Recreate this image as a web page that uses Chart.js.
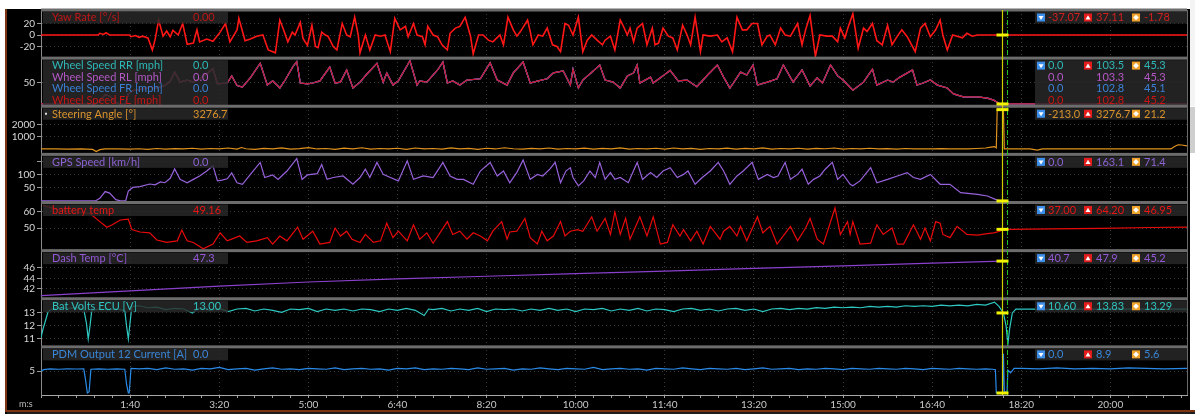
<!DOCTYPE html>
<html><head><meta charset="utf-8">
<script src="https://cdn.jsdelivr.net/npm/chart.js@4.4.1/dist/chart.umd.min.js"></script>
<style>html,body{margin:0;padding:0;background:#fff;overflow:hidden}canvas{display:block}</style>
</head><body>
<canvas id="c" width="1195" height="414"></canvas>
<script>
// ---------- DATA (time in seconds) ----------
const yawTime = [0,64,66,70,73,75,77,99,101,106,
110,114,120,125,128,130,132,137,141,145,
148,154,159,164,171,175,178,186,193,201,
207,212,220,222,229,235,242,249,255,263,
268,272,277,282,285,291,294,299,304,308,
311,315,319,322,328,332,338,343,347,352,
356,358,364,369,375,381,386,392,397,403,
409,412,418,422,428,431,434,440,445,450,
456,459,465,470,476,482,485,491,496,502,
507,515,519,524,530,534,538,546,549,552,
558,563,568,574,579,583,588,592,597,603,
608,613,618,624,630,633,639,644,650,653,
658,661,665,669,675,680,686,689,693,698,
704,709,714,720,725,729,734,740,743,751,
759,764,770,776,781,787,792,798,804,809,
815,818,824,830,835,841,849,854,858,863,
869,874,882,888,894,897,902,906,911,917,
923,927,933,938,944,950,955,961,966,972,
978,981,987,992,998,1004,1009,1012,1017,1023,
1028,1034,1039,1045,1051,1054,1286];
const yawRate = [0,0,3,1,4,2,0,0,-3,-1,
-4,-2,-5,-26,-8,9,26,-2,7,-3,
8,0,20,-16,-14,9,-12,-7,-11,5,
20,-12,9,29,-10,-7,-2,0,-26,-31,
26,10,-12,5,0,22,-6,-18,17,-20,
-22,5,0,-2,-20,-26,20,0,-3,31,
0,-31,0,-26,0,-2,0,-29,29,9,
15,-3,20,0,-3,-17,15,0,-3,-17,
-26,3,12,15,31,-2,-33,0,0,-9,
-12,0,-17,31,9,-2,6,26,6,-17,
0,-2,12,-17,-20,-29,20,17,0,31,
-29,-9,0,-9,-17,-9,-2,-26,26,17,
0,12,-12,12,20,-17,12,-17,-14,12,
-2,-5,-26,17,0,-17,31,-29,0,-2,
0,-12,-5,-29,31,9,9,20,20,-17,
-2,0,-17,12,0,-2,20,-17,9,34,
-37,0,-2,-2,-12,12,-5,15,37,-23,
12,6,20,-10,-17,17,-17,-2,9,-3,
-20,-29,12,20,-3,9,26,0,-26,0,
-2,-5,3,-2,0,0,0];

const wheelTime = [0,61,66,72,77,84,89,95,98,103,
111,122,130,139,145,150,156,164,171,178,
186,193,198,209,214,220,226,235,246,254,
260,268,274,283,287,291,299,305,313,324,
330,336,343,350,358,366,377,384,388,395,
401,414,422,425,433,445,451,456,462,470,
478,493,504,512,523,530,541,549,558,568,
575,586,594,597,603,608,620,627,633,642,
650,658,665,669,672,684,687,698,706,715,
725,736,748,759,766,773,777,785,792,799,
804,815,826,833,844,854,863,871,877,886,
894,900,911,923,933,938,950,956,964,978,
983,990,998,1006,1017,1024,1035,1051,1062,1069,
1073,1076,1286];
const wheelSpeed = [0,0,6,22,19,3,0,0,24,32,
34,40,38,44,54,76,52,57,52,60,
72,84,48,50,67,44,40,63,97,45,
55,38,57,90,101,50,48,50,55,88,
50,52,81,38,52,72,97,52,74,45,
55,103,45,55,52,81,100,50,55,45,
57,60,98,57,45,74,100,50,55,60,
74,79,45,83,38,57,79,93,57,52,
38,67,74,93,50,64,50,67,80,55,
57,41,69,93,64,38,50,76,69,93,
45,52,60,93,52,81,43,62,50,93,
67,57,33,52,83,45,57,52,64,81,
45,50,57,45,38,24,17,17,14,9,
4,0,0];

const steerTime = [0,15,30,45,58,62,66,72,85,100,
110,120,130,140,150,160,170,180,190,200,
210,220,225,230,240,250,260,270,280,290,
300,310,320,330,340,350,360,370,380,390,
400,410,420,430,440,450,460,470,480,490,
500,510,520,530,540,550,560,570,580,590,
600,610,620,630,640,650,660,670,680,690,
700,710,720,730,740,750,760,770,780,790,
800,810,820,830,840,850,860,870,880,890,
900,910,920,930,940,950,960,970,980,990,
1000,1010,1020,1030,1040,1050,
1060,1066,1070,1072,1073,1080,1081,1090,1110,1118,
1124,1150,1200,1250,1268,1272,1276,1280,1286];
const steerAngle = [0,10,-10,5,-40,-213,-60,0,10,-15,
20,-30,40,-20,30,0,60,-20,40,10,
80,-10,120,20,-30,50,0,90,-20,30,
110,0,40,-30,70,10,100,-20,40,0,
60,-30,80,10,40,-20,90,10,50,-30,
60,0,100,20,-20,50,10,80,-10,40,
0,70,-20,50,10,90,-10,40,0,60,
-20,80,10,50,-30,40,0,70,-10,50,
10,90,-20,40,0,60,-10,50,20,80,
-10,40,0,60,10,30,-10,40,0,20,
0,30,10,20,0,40,
80,150,200,100,3276.7,3276.7,0,0,0,-90,
0,0,0,0,0,200,350,330,250];

const gpsTime = [0,61,66,72,77,84,89,95,98,103,
111,122,128,134,139,145,150,156,164,171,
178,186,193,198,203,209,214,220,226,235,
246,251,260,266,276,287,293,299,310,315,
321,328,339,350,358,364,369,377,384,392,
401,411,418,429,440,451,459,467,474,485,
493,504,512,519,526,534,541,549,557,563,
571,577,583,589,594,597,603,609,616,622,
627,633,639,644,650,659,669,675,684,691,
698,706,714,721,726,734,742,751,760,766,
773,781,788,798,805,815,822,827,835,841,
849,854,861,867,874,880,888,894,900,908,
911,919,931,938,950,961,972,979,987,998,
1009,1020,1032,1051,1062,1073,1076];
const gpsSpeed = [0,0,10,36,30,5,0,0,38,52,
55,65,62,73,70,87,123,83,70,83,
96,115,135,77,80,85,108,70,64,102,
148,90,100,83,115,163,83,100,105,140,
83,90,96,64,90,122,90,148,102,90,
77,154,83,96,90,148,96,83,83,64,
115,148,96,115,70,110,157,83,102,96,
122,148,70,115,128,90,58,77,115,90,
148,83,109,83,90,70,148,83,109,90,
115,128,90,102,115,64,90,115,148,115,
64,96,115,148,83,102,90,96,148,83,
102,122,64,83,96,122,148,83,102,64,
58,77,128,70,83,96,109,90,83,102,
64,64,32,25,19,3,0];

const battTime = [2,21,55,66,74,80,89,98,102,111,
122,130,141,153,158,164,171,182,193,201,
209,216,223,231,242,254,260,268,276,288,
294,305,313,324,330,336,343,349,358,364,
373,381,388,395,401,411,418,425,433,440,
456,462,470,478,485,493,501,507,517,523,
526,534,543,549,557,562,568,575,583,588,
594,602,608,618,624,633,639,644,650,656,
661,672,680,687,695,703,709,717,721,729,
736,743,751,762,766,773,781,785,792,804,
810,818,826,837,841,849,858,863,871,878,
891,897,905,908,911,919,931,938,945,955,
961,968,979,987,992,998,1004,1009,1012,1020,
1028,1039,1051,1062,1069,1076,1080,1088,1133,1189,1245,1286];
const battTemp = [64.2,61,59,54,50.5,52,55,55.5,49,47.5,
47,42.5,41,42,48.7,42,41,37,40,47,
42,43.5,45,41,42,44,40,45,42,50.6,
43,48,40,41,50,45,48,43,41,46,
41,42,53,44,48,42,52,43,47,40.5,
54,46,48,43,47,45,42,48,54,43,
47.5,48,56,44,40,48,42,45,54,45,
48,49,48,57,48,56,46,60,46,56,
43,57,45,57,40,41,52,45,49,42,
48,40,51,43,48,51,45,51,42,57,
47,51,40,48,51,42,50,56,43,40,
62.5,46,54,46,54,40,40.6,52,46,50,
40,40,52,43,50,42,54,53,46,44,
51,46,45.6,46.5,47,48,49.1,49.2,49.4,49.8,50.3,50.5];

const dashTime = [0,100,200,300,400,500,600,700,800,900,1000,1078];
const dashTemp = [40.7,41.6,42.5,43.3,43.9,44.4,44.9,45.4,45.9,46.4,46.9,47.3];

const voltTime = [0,2,5,8,12,20,30,40,48,51,
53,55,57,65,75,85,94,96,98,100,
102,110,
120,130,140,150,160,170,175,180,190,200,
210,220,230,240,250,260,270,280,290,300,
310,320,330,340,350,360,370,380,390,400,
410,420,430,435,
440,450,460,470,480,490,500,510,520,530,
540,550,560,570,580,590,600,610,620,630,
640,650,660,670,680,690,700,710,720,730,
740,750,760,770,780,790,800,810,820,830,
840,850,860,870,880,890,900,910,920,930,
940,950,960,970,980,990,1000,1010,1020,1030,
1040,1050,1060,1070,
1075,1080,1083,1085,1087,1090,1094,1110,1140,1170,1200,1230,1260,1286];
const batVolts = [11.1,11.7,12.4,13.1,13.3,13.4,13.35,13.4,13.3,12.2,
11.0,12.0,13.2,13.3,13.25,13.3,13.2,12.0,11.0,12.3,
13.5,13.55,
13.4,13.45,13.25,13.35,13.3,13.0,13.3,13.4,13.2,13.35,
13.1,13.3,13.35,13.15,13.3,13.2,13.05,13.3,13.25,13.35,
13.1,13.3,13.2,13.3,13.15,13.3,13.25,13.1,13.3,13.2,
13.35,13.2,12.8,13.3,
13.25,13.35,13.15,13.3,13.2,13.35,13.1,13.3,13.25,13.3,
13.15,13.3,13.2,13.35,13.2,13.3,13.1,13.3,13.25,13.35,
13.15,13.3,13.2,13.35,13.15,13.3,13.25,13.1,13.3,13.35,
13.2,13.3,13.15,13.3,13.35,13.2,13.3,13.1,13.3,13.35,
13.25,13.35,13.3,13.4,13.35,13.45,13.4,13.45,13.4,13.5,
13.45,13.5,13.45,13.55,13.5,13.55,13.5,13.6,13.55,13.6,
13.55,13.65,13.6,13.83,
13.5,13.0,12.0,10.6,11.8,13.0,13.3,13.3,13.28,13.3,13.29,13.3,13.29,13.3];

const pdmTime = [0,3,10,20,30,40,48,50,52,54,
56,65,75,85,94,96,98,99,101,110,
120,130,140,150,160,170,180,190,200,210,
220,230,240,250,260,270,280,290,300,310,
320,330,340,350,360,370,380,390,400,410,
420,430,440,450,460,470,480,490,500,510,
520,530,540,550,560,570,580,590,600,610,
620,630,640,650,660,670,680,690,700,710,
720,730,740,750,760,770,780,790,800,810,
820,830,840,850,860,870,880,890,900,910,
920,930,940,950,960,970,980,990,1000,1010,
1020,1030,1040,1050,1060,
1068,1071,1072,1079,1080,1081,1084,1085,1088,1092,
1100,1120,1140,1160,1180,1200,1220,1240,1260,1286];
const pdmCurrent = [5.0,5.3,5.5,5.4,5.5,5.45,5.5,3.0,0,0.3,
5.4,5.5,5.4,5.5,5.4,2.0,0,0,5.6,5.5,
5.6,5.3,5.7,5.4,5.5,5.2,5.6,5.5,5.8,5.3,
5.5,5.6,5.2,5.5,5.7,5.4,5.5,5.3,5.6,5.5,
5.4,5.7,5.3,5.5,5.6,5.4,5.5,5.2,5.6,5.5,
5.7,5.3,5.5,5.4,5.6,5.5,5.3,5.7,5.4,5.5,
5.6,5.2,5.5,5.4,5.7,5.5,5.3,5.6,5.5,5.4,
5.8,5.3,5.5,5.6,5.4,5.5,5.2,5.6,5.5,5.4,
5.7,5.5,5.3,5.6,5.5,5.4,5.6,5.3,5.5,5.7,
5.4,5.5,5.6,5.3,5.5,5.4,5.6,5.5,5.3,5.6,
5.5,5.4,5.6,5.5,5.4,5.6,5.5,5.3,5.6,5.5,
5.4,5.6,5.5,5.4,5.5,
5.4,5.3,0,0,8.9,0.4,0,5.2,4.6,5.6,
5.6,5.5,5.7,5.5,5.6,5.5,5.7,5.6,5.5,5.6];

// ticks / labels
const xTickSeconds = [100,200,300,400,500,600,700,800,900,1000,1100,1200];
const xTickLabels = ['1:40','3:20','5:00','6:40','8:20','10:00','11:40','13:20','15:00','16:40','18:20','20:00'];
const yawTicks = [-20,0,20];
const wheelTicks = [50];
const steerTicks = [1000,2000];
const gpsTicks = [50,100,150];
const gpsTickLabels = [50,100];
const battTicks = [50,60];
const dashTicks = [42,44,46];
const voltTicks = [11,12,13];
const pdmTicks = [5];

// panel header texts
const panelTitles = [["Yaw Rate [°/s]"],["Wheel Speed RR [mph]","Wheel Speed RL [mph]","Wheel Speed FR [mph]","Wheel Speed FL [mph]"],["Steering Angle [°]"],["GPS Speed [km/h]"],["battery temp"],["Dash Temp [°C]"],["Bat Volts ECU [V]"],["PDM Output 12 Current [A]"]];
const cursorReadout = [["0.00"],["0.0","0.0","0.0","0.0"],["3276.7"],["0.0"],["49.16"],["47.3"],["13.00"],["0.0"]];
const statMin = [["-37.07"],["0.0","0.0","0.0","0.0"],["-213.0"],["0.0"],["37.00"],["40.7"],["10.60"],["0.0"]];
const statMax = [["37.11"],["103.5","103.3","102.8","102.8"],["3276.7"],["163.1"],["64.20"],["47.9"],["13.83"],["8.9"]];
const statAvg = [["-1.78"],["45.3","45.3","45.1","45.2"],["21.2"],["71.4"],["46.95"],["45.2"],["13.29"],["5.6"]];
const cursorTime = 1078.5;

// ---------- STYLE ----------
const textColors = [['#c01616'],['#2fb8b8','#b458c6','#3a80d6','#c81414'],['#d9922c'],['#8c62d4'],['#e81616'],['#9458d6'],['#2fc4c0'],['#3a86d8']];
const statColors = [['#d02020'],['#2fb8b8','#b458c6','#3a80d6','#c81414'],['#d9922c'],['#8c62d4'],['#e81616'],['#9458d6'],['#2fc4c0'],['#3a86d8']];
const panelIds = ['yYaw','yWheel','ySteer','yGps','yBatt','yDash','yVolt','yPdm'];

const FONT = 'Lato, "Liberation Sans", sans-serif';
Chart.defaults.font.family = FONT;

function pts(ts, vs){ return ts.map((t,i)=>({x:t,y:vs[i]})); }
function ds(label, ts, vs, axis, color, w, order){
  return {label, data: pts(ts,vs), yAxisID: axis, borderColor: color, backgroundColor: color,
    borderWidth: w, pointRadius: 0, tension: 0, fill: false, order: order||0};
}
function yAxis(min, max, ticks, weight, labelled){
  const lab = labelled || ticks;
  return {
    type:'linear', position:'left', stack:'panels', stackWeight:1, weight, min, max,
    afterBuildTicks: s => { s.ticks = ticks.map(v=>({value:v})); },
    afterFit: s => { s.width = 36; },
    ticks:{autoSkip:false, color:'#d6d6d6', font:{size:10, family:FONT}, padding:2,
      callback: v => lab.includes(v) ? String(v) : ''},
    grid:{color:'#3a3a3a', tickColor:'#9a9a9a', tickLength:4, lineWidth:1},
    border:{color:'#8a8a8a', dash:[1,3], display:true}
  };
}

const xMinor = [];
for (let s = 0; s <= 1280; s += 20) xMinor.push(s);

function drawIcon(c, x, y, kind){
  const col = kind==='min' ? '#3d8ee8' : kind==='max' ? '#e41c1c' : '#f0a22a';
  c.fillStyle = col; c.fillRect(x, y, 8, 8);
  c.fillStyle = '#ffffff'; c.beginPath();
  if (kind==='min'){ c.moveTo(x+1.5,y+2.5); c.lineTo(x+6.5,y+2.5); c.lineTo(x+4,y+6.5); }
  else if (kind==='max'){ c.moveTo(x+1.5,y+6); c.lineTo(x+6.5,y+6); c.lineTo(x+4,y+1.8); }
  else { c.moveTo(x+4,y+1.2); c.lineTo(x+6.8,y+4); c.lineTo(x+4,y+6.8); c.lineTo(x+1.2,y+4); }
  c.closePath(); c.fill();
}

const overlay = {
  id:'overlay',
  beforeDraw(chart){
    const c = chart.ctx; c.save();
    c.fillStyle = '#ffffff'; c.fillRect(0,0,1195,414);
    c.fillStyle = '#000000'; c.fillRect(5,9,1185,405);
    c.fillStyle = '#7c3412'; c.fillRect(5,9,2,403); c.fillRect(5,410,1190,2);
    c.fillStyle = '#1e1e1e'; c.fillRect(7,412,1188,2);
    c.fillStyle = '#f4f4f4'; c.fillRect(1190,0,5,106);
    c.fillStyle = '#cfcfcf'; c.fillRect(1190,107,5,46);
    c.restore();
  },
  afterDraw(chart){
    const c = chart.ctx, xs = chart.scales.x, a = chart.chartArea;
    c.save();
    c.strokeStyle = '#6a6a6a'; c.lineWidth = 1;
    c.beginPath(); c.moveTo(a.right+0.5, a.top); c.lineTo(a.right+0.5, a.bottom); c.stroke();
    panelIds.forEach((id, p) => {
      const s = chart.scales[id], top = s.top;
      c.fillStyle = '#6c6c6c'; c.fillRect(a.left, top-1.5, a.right-a.left, 3);
      const rows = panelTitles[p].length;
      const h = rows===1 ? 11.5 : rows*11.4 + 1;
      c.fillStyle = 'rgba(42,42,42,0.82)';
      c.fillRect(a.left+2, top+2, 185, h);
      c.fillRect(1035, top+2, a.right-1035, h);
      c.textBaseline = 'middle'; c.textAlign = 'left';
      c.font = '11px ' + FONT;
      for (let r = 0; r < rows; r++){
        const y = top + 7.8 + r*11.4;
        c.fillStyle = textColors[p][r];
        c.fillText(panelTitles[p][r], 52, y);
        c.fillText(cursorReadout[p][r], 193, y);
        c.fillStyle = statColors[p][r];
        c.fillText(statMin[p][r], 1048, y);
        c.fillText(statMax[p][r], 1096, y);
        c.fillText(statAvg[p][r], 1144, y);
      }
      drawIcon(c, 1037, top+3.5, 'min');
      drawIcon(c, 1084, top+3.5, 'max');
      drawIcon(c, 1132, top+3.5, 'avg');
      if (id === 'ySteer'){ c.fillStyle = '#e0e0e0'; c.fillRect(45, top+6.5, 2, 2); }
    });
    const cx = Math.round(xs.getPixelForValue(cursorTime)) + 0.5;
    const gx = Math.round(xs.getPixelForValue(cursorTime + 5.5)) + 0.5;
    c.strokeStyle = '#22c022'; c.lineWidth = 1; c.setLineDash([5,2,1,2]);
    c.beginPath(); c.moveTo(gx, a.top); c.lineTo(gx, a.bottom); c.stroke();
    c.setLineDash([]);
    c.strokeStyle = '#d0d000'; c.lineWidth = 1.2;
    c.beginPath(); c.moveTo(cx, a.top); c.lineTo(cx, a.bottom); c.stroke();
    c.fillStyle = '#f2f200';
    panelIds.forEach((id, p) => {
      const v = parseFloat(cursorReadout[p][0]);
      const y = chart.scales[id].getPixelForValue(v);
      c.fillRect(cx-6, y-1.5, 12, 3);
    });
    c.fillStyle = '#bdbdbd'; c.font = '9px ' + FONT; c.textBaseline = 'middle';
    c.fillText('m:s', 19, 404);
    c.restore();
  }
};

new Chart(document.getElementById('c'), {
  type:'line',
  data:{ datasets:[
    ds('Yaw Rate [°/s]', yawTime, yawRate, 'yYaw', '#ff1616', 1.6),
    ds('Wheel Speed FL [mph]', wheelTime, wheelSpeed, 'yWheel', '#d0122e', 1.2, 0),
    ds('Wheel Speed FR [mph]', wheelTime, wheelSpeed, 'yWheel', '#3a80d6', 1.2, 1),
    ds('Wheel Speed RL [mph]', wheelTime, wheelSpeed, 'yWheel', '#c050c8', 1.2, 2),
    ds('Wheel Speed RR [mph]', wheelTime, wheelSpeed, 'yWheel', '#2fb8b8', 1.2, 3),
    ds('Steering Angle [°]', steerTime, steerAngle, 'ySteer', '#e0921e', 1.2),
    ds('GPS Speed [km/h]', gpsTime, gpsSpeed, 'yGps', '#9862dc', 1.2),
    ds('battery temp', battTime, battTemp, 'yBatt', '#e80a0a', 1.2),
    ds('Dash Temp [°C]', dashTime, dashTemp, 'yDash', '#8a40cc', 1.2),
    ds('Bat Volts ECU [V]', voltTime, batVolts, 'yVolt', '#2ec8c2', 1.2),
    ds('PDM Output 12 Current [A]', pdmTime, pdmCurrent, 'yPdm', '#2a8ae8', 1.2)
  ]},
  options:{
    responsive:false, animation:false, devicePixelRatio:1,
    layout:{padding:{left:5, top:10, right:8, bottom:0}},
    plugins:{legend:{display:false}, tooltip:{enabled:false}, title:{display:false}},
    scales:{
      x:{type:'linear', min:0, max:1286,
        afterBuildTicks: s => { s.ticks = xMinor.map(v=>({value:v})); },
        afterFit: s => { s.height = 19; },
        ticks:{autoSkip:false, maxRotation:0, color:'#c8c8c8', font:{size:10, family:FONT}, padding:1,
          callback: v => { const i = xTickSeconds.indexOf(v); return i >= 0 ? xTickLabels[i] : ''; }},
        grid:{color: ctx => (ctx.tick && xTickSeconds.includes(ctx.tick.value)) ? '#3a3a3a' : 'rgba(0,0,0,0)',
          tickColor:'#a0a0a0', tickLength:3},
        border:{color:'#a8a8a8', dash:[1,3]}
      },
      yYaw:  yAxis(-40.2, 43.5, yawTicks, 8),
      yWheel:yAxis(-5.5, 109.3, wheelTicks, 7),
      ySteer:yAxis(-450, 3557, steerTicks, 6),
      yGps:  yAxis(-6, 179, gpsTicks, 5, gpsTickLabels),
      yBatt: yAxis(35.9, 65.9, battTicks, 4),
      yDash: yAxis(40.1, 49.3, dashTicks, 3),
      yVolt: yAxis(10.39, 14.09, voltTicks, 2),
      yPdm:  yAxis(-0.45, 10.48, pdmTicks, 1)
    }
  },
  plugins:[overlay]
});
</script>
</body></html>
